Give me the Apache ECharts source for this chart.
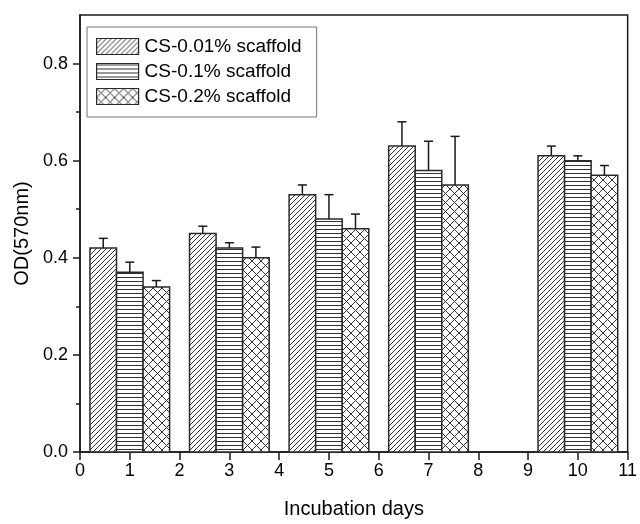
<!DOCTYPE html>
<html>
<head>
<meta charset="utf-8">
<script src="https://cdn.jsdelivr.net/npm/echarts@6/dist/echarts.min.js"></script>
<style>
  html, body { margin: 0; padding: 0; background: #fff; }
  #chart { width: 640px; height: 524px; }
</style>
</head>
<body>
<div id="chart"></div>
<script>
// data
const days = [1, 3, 5, 7, 10]
const seriesNames = ['CS-0.01% scaffold', 'CS-0.1% scaffold', 'CS-0.2% scaffold']
const od001 = [0.42, 0.45, 0.53, 0.63, 0.61]
const err001 = [0.02, 0.015, 0.02, 0.05, 0.02]
const od01 = [0.37, 0.42, 0.48, 0.58, 0.60]
const err01 = [0.021, 0.011, 0.05, 0.06, 0.01]
const od02 = [0.34, 0.40, 0.46, 0.55, 0.57]
const err02 = [0.013, 0.022, 0.03, 0.10, 0.02]
const yLabels = [0, 0.2, 0.4, 0.6, 0.8]
const yMinor = [0.1, 0.3, 0.5, 0.7]

// hatch patterns
const makePattern = (size, draw) => {
  const c = document.createElement('canvas')
  c.width = size
  c.height = size
  const ctx = c.getContext('2d')
  ctx.fillStyle = '#fff'
  ctx.fillRect(0, 0, size, size)
  ctx.strokeStyle = '#333'
  ctx.lineWidth = 1
  draw(ctx, size)
  return { image: c, repeat: 'repeat' }
}

const diagPattern = makePattern(5, (ctx, s) => {
  ctx.beginPath()
  ctx.moveTo(-1, s + 1); ctx.lineTo(s + 1, -1)
  ctx.moveTo(-1, 1); ctx.lineTo(1, -1)
  ctx.moveTo(s - 1, s + 1); ctx.lineTo(s + 1, s - 1)
  ctx.stroke()
})

const horizPattern = makePattern(4, (ctx, s) => {
  ctx.beginPath()
  ctx.moveTo(0, 1.5); ctx.lineTo(s, 1.5)
  ctx.stroke()
})

const crossPattern = makePattern(9, (ctx, s) => {
  ctx.beginPath()
  ctx.moveTo(0, 0); ctx.lineTo(s, s)
  ctx.moveTo(0, s); ctx.lineTo(s, 0)
  ctx.stroke()
})

const patterns = [diagPattern, horizPattern, crossPattern]
const values = [od001, od01, od02]
const errors = [err001, err01, err02]

const groupWidth = 1.6
const barW = groupWidth / 3

// bar + upper error bar for series k
const makeRender = (k) => (params, api) => {
  const x = api.value(0) + (k - 1) * barW
  const y = api.value(1)
  const e = api.value(2)
  const tl = api.coord([x - barW / 2, y])
  const br = api.coord([x + barW / 2, 0])
  const top = api.coord([x, y])
  const errTop = api.coord([x, y + e])
  const capHalf = 4.5
  return {
    type: 'group',
    children: [
      {
        type: 'rect',
        shape: { x: tl[0], y: tl[1], width: br[0] - tl[0], height: br[1] - tl[1] },
        style: { fill: patterns[k], stroke: '#2a2a2a', lineWidth: 1.5 }
      },
      {
        type: 'line',
        shape: { x1: top[0], y1: top[1], x2: errTop[0], y2: errTop[1] },
        style: { stroke: '#1a1a1a', lineWidth: 1.5 }
      },
      {
        type: 'line',
        shape: { x1: errTop[0] - capHalf, y1: errTop[1], x2: errTop[0] + capHalf, y2: errTop[1] },
        style: { stroke: '#1a1a1a', lineWidth: 1.5 }
      }
    ]
  }
}

const chart = echarts.init(document.getElementById('chart'), null, { renderer: 'canvas' })

const font = 'Liberation Sans, Arial, sans-serif'

const option = {
  animation: false,
  backgroundColor: '#fff',
  grid: {
    left: 80,
    right: 10,
    top: 15,
    bottom: 68,
    show: true,
    borderColor: '#1a1a1a',
    borderWidth: 1.5
  },
  legend: {
    orient: 'vertical',
    left: 87,
    top: 27,
    padding: [10, 15, 11, 9],
    itemGap: 6,
    itemWidth: 42,
    itemHeight: 16,
    icon: 'rect',
    borderColor: '#777',
    borderWidth: 1,
    itemStyle: { borderColor: '#2a2a2a', borderWidth: 1.2 },
    textStyle: { fontFamily: font, fontSize: 19, color: '#000', padding: [0, 0, 0, 1] },
    data: seriesNames
  },
  xAxis: {
    type: 'value',
    min: 0,
    max: 11,
    interval: 1,
    name: 'Incubation days',
    nameLocation: 'middle',
    nameGap: 47,
    nameTextStyle: { fontFamily: font, fontSize: 20, color: '#000' },
    axisLine: { show: true, lineStyle: { color: '#1a1a1a', width: 1.5 } },
    axisTick: { show: true, inside: false, length: 8, lineStyle: { color: '#1a1a1a', width: 1.5 } },
    axisLabel: { margin: 10, fontFamily: font, fontSize: 18, color: '#000' },
    splitLine: { show: false }
  },
  yAxis: [
    {
      type: 'value',
      min: 0,
      max: 0.9,
      name: 'OD(570nm)',
      nameLocation: 'middle',
      nameGap: 47,
      nameTextStyle: { fontFamily: font, fontSize: 20, color: '#000' },
      axisLine: { show: true, lineStyle: { color: '#1a1a1a', width: 1.5 } },
      axisTick: { show: true, inside: false, length: 7, customValues: yLabels, lineStyle: { color: '#1a1a1a', width: 1.5 } },
      axisLabel: {
        margin: 12,
        fontFamily: font,
        fontSize: 18,
        color: '#000',
        customValues: yLabels,
        formatter: (v) => v.toFixed(1)
      },
      splitLine: { show: false }
    },
    {
      type: 'value',
      min: 0,
      max: 0.9,
      position: 'left',
      axisLine: { show: false },
      axisTick: { show: true, inside: false, length: 4, customValues: yMinor, lineStyle: { color: '#1a1a1a', width: 1.5 } },
      axisLabel: { show: false },
      splitLine: { show: false }
    }
  ],
  series: seriesNames.map((name, k) => ({
    name,
    type: 'custom',
    renderItem: makeRender(k),
    itemStyle: { color: patterns[k], borderColor: '#2a2a2a', borderWidth: 1.2 },
    encode: { x: 0, y: 1 },
    data: days.map((d, i) => [d, values[k][i], errors[k][i]]),
    clip: false,
    z: 2
  }))
}

chart.setOption(option)
</script>
</body>
</html>
